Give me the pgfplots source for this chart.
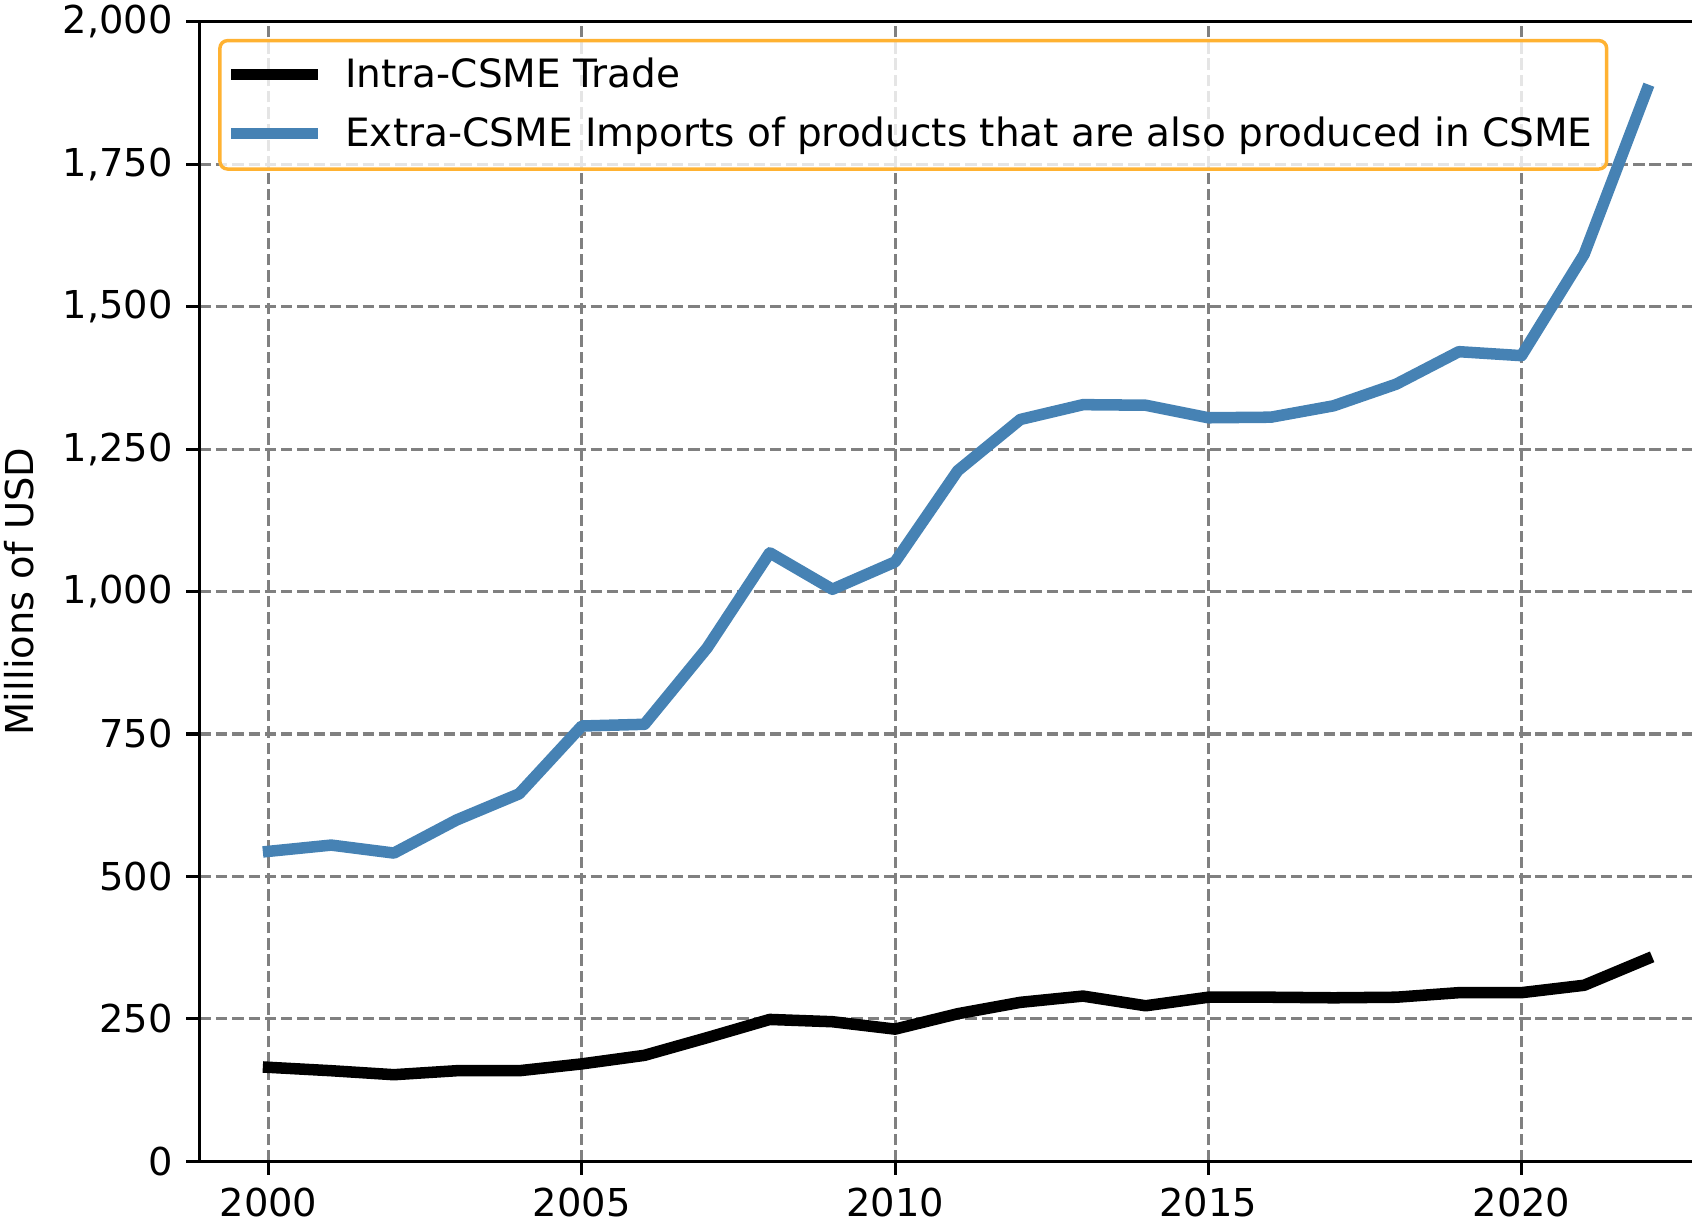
\documentclass[border=0pt]{standalone}
\usepackage{fontspec}
\setmainfont{DejaVu Sans}
\usepackage{pgfplots}
\pgfplotsset{compat=1.18}
\definecolor{steel}{HTML}{4682B4}
\definecolor{legedge}{RGB}{255,178,50}
\definecolor{gridgray}{RGB}{128,128,128}
\begin{document}
\begin{tikzpicture}
\path[use as bounding box] (0,0) rectangle (440.4pt,318pt);
\clip (0,0) rectangle (440.4pt,318pt);
\begin{axis}[
  at={(51.97pt,15.73pt)}, anchor=south west,
  scale only axis, width=394.6pt, height=296.6pt,
  xmin=1998.9, xmax=2023.1, ymin=0, ymax=2000,
  xtick={2000,2005,...,2020}, ytick={0,250,...,2000},
  tick pos=left, tick align=outside, major tick length=3.5pt,
  every tick/.style={black, line width=0.8pt},
  axis line style={line width=0.8pt},
  /pgf/number format/assume math mode=true,
  xticklabel style={/pgf/number format/1000 sep={}, font=\fontsize{10}{12}\selectfont},
  yticklabel style={/pgf/number format/1000 sep={,}, font=\fontsize{10}{12}\selectfont},
  grid=major,
  major grid style={gridgray, line width=0.8pt, dash pattern=on 2.96pt off 1.28pt},
  ylabel={Millions of USD},
  every axis y label/.style={at={(rel axis cs:-0.1189,0.5)}, rotate=90, anchor=center, font=\fontsize{10}{12}\selectfont},
  legend cell align=left,
  legend image code/.code={\draw[#1, line cap=butt] (0pt,0.2pt) -- (22.5pt,0.2pt);},
  legend style={at={(rel axis cs:0.0122,0.985)}, anchor=north west,
    draw=legedge, line width=0.9pt, rounded corners=2pt,
    fill=white, fill opacity=0.8, draw opacity=1, text opacity=1,
    font=\fontsize{10.15}{12}\selectfont,
    inner xsep=1.5pt, inner ysep=4pt, row sep=5.47pt, column sep=3.4pt,
    nodes={inner xsep=2.25pt, inner ysep=0pt, text height=8.08pt, text depth=1.9pt}},
]
\addplot[black, line width=3pt, line join=round, line cap=rect] coordinates {
(2000,165) (2001,159) (2002,152) (2003,159) (2004,159) (2005,171) (2006,186)
(2007,217) (2008,249) (2009,245) (2010,232) (2011,259) (2012,279) (2013,290)
(2014,273) (2015,288) (2016,288) (2017,287) (2018,288) (2019,296) (2020,296)
(2021,309) (2022,355)};
\addlegendentry{Intra-CSME Trade}
\addplot[steel, line width=3pt, line join=round, line cap=rect] coordinates {
(2000,544) (2001,555) (2002,541) (2003,599) (2004,645) (2005,764) (2006,767)
(2007,901) (2008,1068) (2009,1004) (2010,1052) (2011,1212) (2012,1302) (2013,1328)
(2014,1327) (2015,1305) (2016,1306) (2017,1326) (2018,1364) (2019,1421) (2020,1414)
(2021,1592) (2022,1880)};
\addlegendentry{Extra-CSME Imports of products that are also produced in CSME}
\end{axis}
\end{tikzpicture}
\end{document}
